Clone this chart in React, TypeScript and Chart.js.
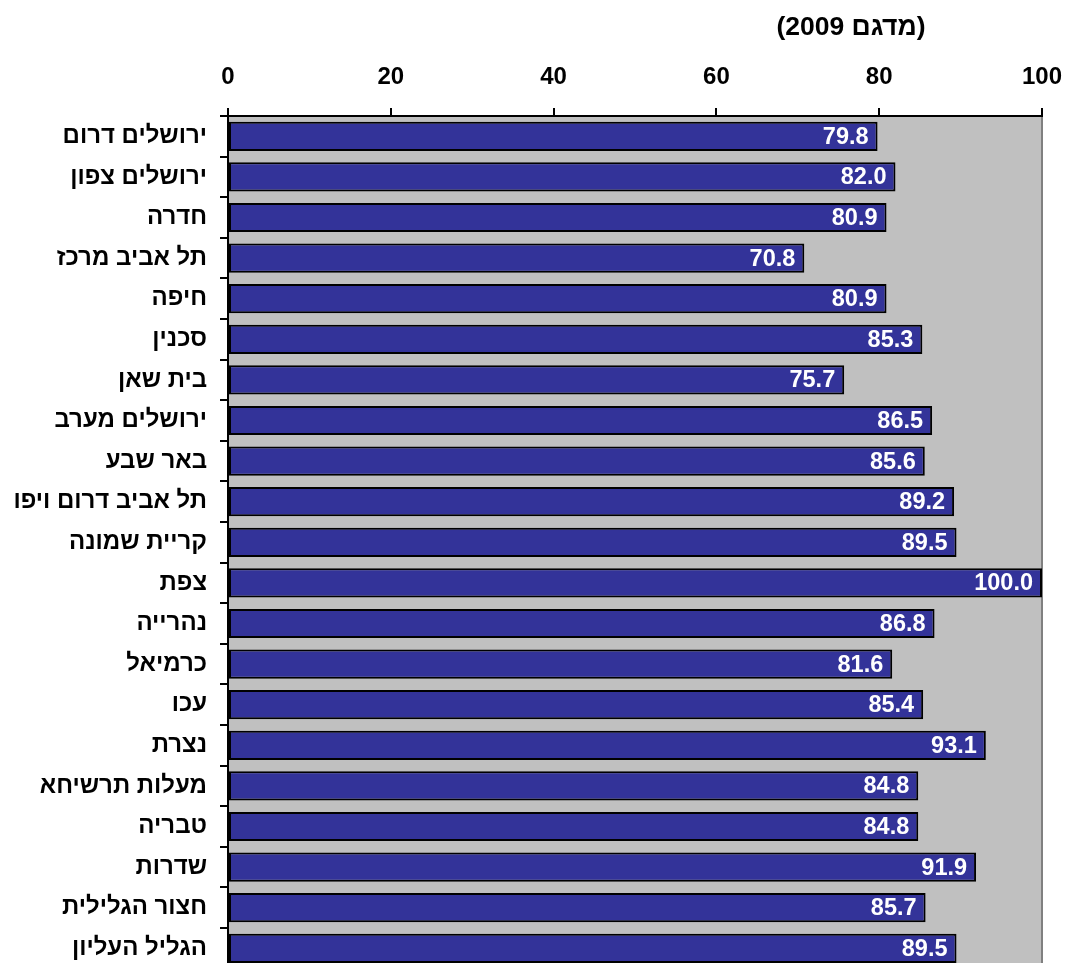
import React, { useEffect, useRef } from "react";
import { Chart, registerables } from "chart.js";

Chart.register(...registerables);

const categories: string[] = [
  "ירושלים דרום",
  "ירושלים צפון",
  "חדרה",
  "תל אביב מרכז",
  "חיפה",
  "סכנין",
  "בית שאן",
  "ירושלים מערב",
  "באר שבע",
  "תל אביב דרום ויפו",
  "קריית שמונה",
  "צפת",
  "נהרייה",
  "כרמיאל",
  "עכו",
  "נצרת",
  "מעלות תרשיחא",
  "טבריה",
  "שדרות",
  "חצור הגלילית",
  "הגליל העליון",
];

const values: number[] = [
  79.8, 82.0, 80.9, 70.8, 80.9, 85.3, 75.7, 86.5, 85.6, 89.2, 89.5, 100.0,
  86.8, 81.6, 85.4, 93.1, 84.8, 84.8, 91.9, 85.7, 89.5,
];

const xTicks: number[] = [0, 20, 40, 60, 80, 100];
const titleText = "(מדגם 2009)";

const FONT = "'Liberation Sans', Arial, sans-serif";

const bgPlugin = {
  id: "plotBg",
  beforeDraw(chart: any) {
    const { ctx, chartArea } = chart;
    ctx.save();
    ctx.fillStyle = "#C0C0C0";
    ctx.fillRect(chartArea.left, chartArea.top, chartArea.right - chartArea.left, chartArea.bottom - chartArea.top);
    ctx.strokeStyle = "#808080";
    ctx.lineWidth = 2;
    ctx.beginPath();
    ctx.moveTo(chartArea.right, chartArea.top);
    ctx.lineTo(chartArea.right, chartArea.bottom);
    ctx.stroke();
    ctx.restore();
  },
};

const labelPlugin = {
  id: "barLabels",
  afterDatasetsDraw(chart: any) {
    const { ctx } = chart;
    const meta = chart.getDatasetMeta(0);
    ctx.save();
    ctx.font = `bold 23.5px ${FONT}`;
    ctx.fillStyle = "#FFFFFF";
    ctx.textAlign = "right";
    ctx.textBaseline = "middle";
    meta.data.forEach((bar: any, i: number) => {
      const v = chart.data.datasets[0].data[i] as number;
      ctx.fillText(v.toFixed(1), bar.x - 9, bar.y + 1);
    });
    ctx.restore();
  },
};

const titlePlugin = {
  id: "rtlTitle",
  afterDraw(chart: any) {
    const { ctx } = chart;
    ctx.save();
    ctx.font = `bold 26.5px ${FONT}`;
    ctx.fillStyle = "#000000";
    (ctx as any).direction = "rtl";
    ctx.textAlign = "center";
    ctx.textBaseline = "middle";
    ctx.fillText(titleText, 851, 28);
    ctx.restore();
  },
};

export default function App() {
  const ref = useRef<HTMLCanvasElement | null>(null);

  useEffect(() => {
    if (!ref.current) return;
    const chart = new Chart(ref.current, {
      type: "bar",
      data: {
        labels: categories,
        datasets: [
          {
            data: values,
            backgroundColor: "#333399",
            borderColor: "#000000",
            borderWidth: 2,
            borderSkipped: false,
            barPercentage: 0.72,
            categoryPercentage: 1,
          },
        ],
      },
      options: {
        indexAxis: "y",
        responsive: false,
        animation: false,
        layout: { padding: { left: 0, right: 25, top: 0, bottom: 6.4 } },
        plugins: {
          legend: { display: false },
          title: { display: false },
          tooltip: { enabled: false },
        },
        scales: {
          x: {
            position: "top",
            min: 0,
            max: 100,
            afterFit(scale: any) {
              scale.height = 116;
              scale.paddingLeft = 0;
              scale.paddingRight = 0;
              scale.paddingTop = 0;
              scale.paddingBottom = 0;
            },
            afterBuildTicks(scale: any) {
              scale.ticks = xTicks.map((v) => ({ value: v }));
            },
            ticks: {
              font: { family: FONT, size: 24, weight: "bold" },
              color: "#000000",
              padding: 16,
              maxRotation: 0,
            },
            grid: {
              drawOnChartArea: false,
              drawTicks: true,
              tickLength: 8,
              color: "#000000",
              lineWidth: 2,
            },
            border: { color: "#000000", width: 2 },
          },
          y: {
            afterFit(scale: any) {
              scale.width = 228;
              scale.paddingLeft = 0;
              scale.paddingRight = 0;
              scale.paddingTop = 0;
              scale.paddingBottom = 0;
            },
            ticks: {
              font: { family: FONT, size: 24, weight: "bold" },
              color: "#000000",
              padding: 13,
            },
            grid: {
              offset: true,
              drawOnChartArea: false,
              drawTicks: true,
              tickLength: 8,
              color: "#000000",
              lineWidth: 2,
            },
            border: { color: "#000000", width: 2 },
          },
        },
      },
      plugins: [bgPlugin, labelPlugin, titlePlugin],
    });
    return () => chart.destroy();
  }, []);

  return (
    <div
      style={{
        position: "fixed",
        top: 0,
        left: 0,
        width: 1067,
        height: 963,
        overflow: "hidden",
        background: "#FFFFFF",
      }}
    >
      <canvas ref={ref} width={1067} height={975} style={{ display: "block" }} />
    </div>
  );
}
